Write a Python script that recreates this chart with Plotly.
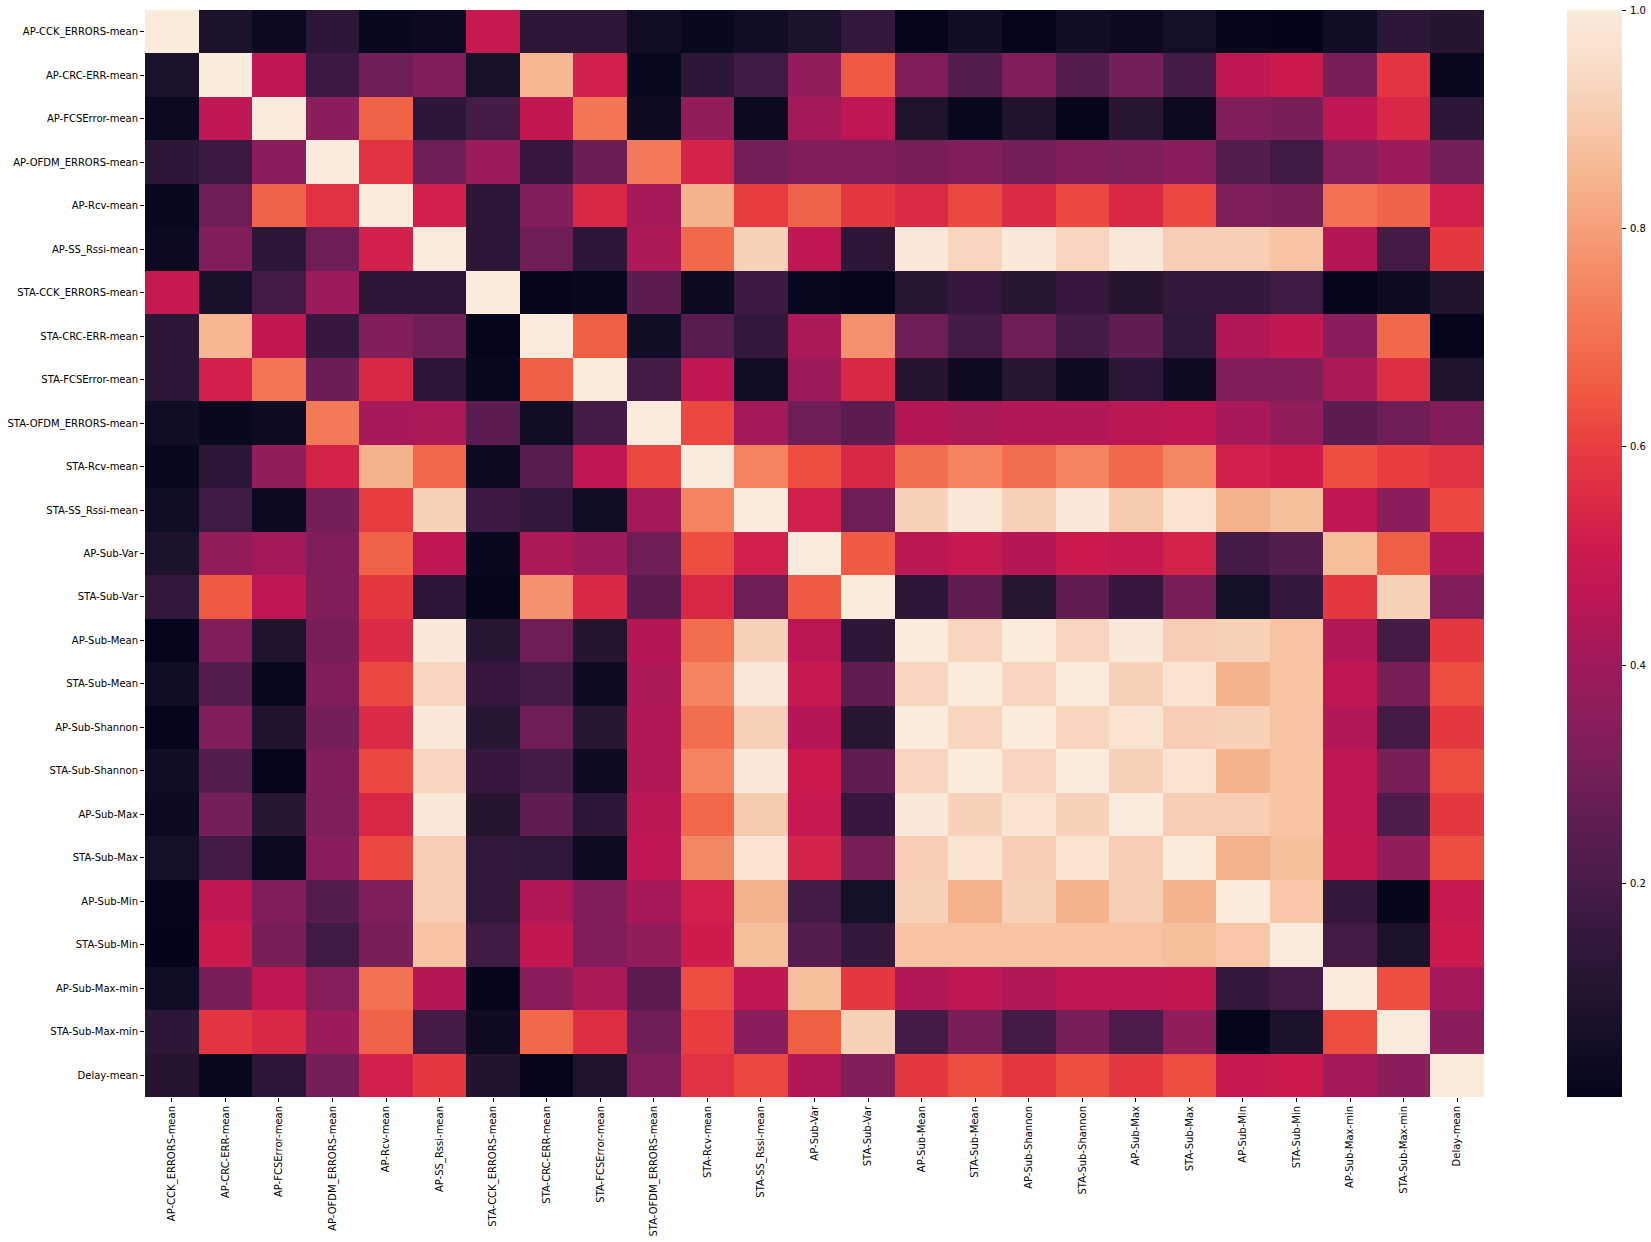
import numpy as np
import plotly.graph_objects as go

labels = [
    "AP-CCK_ERRORS-mean", "AP-CRC-ERR-mean", "AP-FCSError-mean", "AP-OFDM_ERRORS-mean",
    "AP-Rcv-mean", "AP-SS_Rssi-mean", "STA-CCK_ERRORS-mean", "STA-CRC-ERR-mean",
    "STA-FCSError-mean", "STA-OFDM_ERRORS-mean", "STA-Rcv-mean", "STA-SS_Rssi-mean",
    "AP-Sub-Var", "STA-Sub-Var", "AP-Sub-Mean", "STA-Sub-Mean", "AP-Sub-Shannon",
    "STA-Sub-Shannon", "AP-Sub-Max", "STA-Sub-Max", "AP-Sub-Min", "STA-Sub-Min",
    "AP-Sub-Max-min", "STA-Sub-Max-min", "Delay-mean",
]

# lower triangle of the (symmetric) correlation matrix, row by row
lower_rows = [
    [1.0],
    [0.08, 1.0],
    [0.03, 0.47, 1.0],
    [0.13, 0.17, 0.35, 1.0],
    [0.02, 0.29, 0.67, 0.57, 1.0],
    [0.03, 0.33, 0.13, 0.29, 0.52, 1.0],
    [0.49, 0.07, 0.19, 0.39, 0.13, 0.13, 1.0],
    [0.13, 0.85, 0.48, 0.16, 0.33, 0.29, 0.01, 1.0],
    [0.13, 0.52, 0.71, 0.28, 0.54, 0.13, 0.02, 0.66, 1.0],
    [0.05, 0.02, 0.04, 0.72, 0.42, 0.43, 0.25, 0.05, 0.19, 1.0],
    [0.02, 0.13, 0.37, 0.53, 0.84, 0.68, 0.03, 0.24, 0.47, 0.62, 1.0],
    [0.05, 0.18, 0.03, 0.30, 0.60, 0.92, 0.17, 0.15, 0.05, 0.41, 0.74, 1.0],
    [0.08, 0.37, 0.41, 0.33, 0.67, 0.47, 0.02, 0.43, 0.39, 0.29, 0.63, 0.52, 1.0],
    [0.15, 0.65, 0.47, 0.33, 0.59, 0.13, 0.01, 0.77, 0.54, 0.25, 0.54, 0.29, 0.65, 1.0],
    [0.01, 0.33, 0.09, 0.31, 0.55, 0.99, 0.12, 0.29, 0.11, 0.45, 0.69, 0.92, 0.46, 0.13, 1.0],
    [0.05, 0.23, 0.02, 0.33, 0.62, 0.93, 0.16, 0.19, 0.04, 0.43, 0.74, 0.99, 0.49, 0.26, 0.93, 1.0],
    [0.01, 0.33, 0.10, 0.30, 0.55, 0.99, 0.12, 0.29, 0.12, 0.44, 0.69, 0.92, 0.45, 0.12, 1.0, 0.93, 1.0],
    [0.05, 0.23, 0.01, 0.33, 0.62, 0.93, 0.16, 0.19, 0.04, 0.44, 0.74, 0.99, 0.50, 0.26, 0.93, 1.0, 0.93, 1.0],
    [0.03, 0.30, 0.12, 0.32, 0.54, 0.99, 0.11, 0.26, 0.13, 0.46, 0.68, 0.90, 0.49, 0.16, 0.99, 0.92, 0.97, 0.92, 1.0],
    [0.06, 0.19, 0.03, 0.35, 0.62, 0.91, 0.15, 0.14, 0.04, 0.47, 0.75, 0.97, 0.53, 0.31, 0.91, 0.97, 0.91, 0.97, 0.91, 1.0],
    [0.01, 0.47, 0.33, 0.23, 0.32, 0.91, 0.15, 0.44, 0.33, 0.42, 0.52, 0.84, 0.19, 0.06, 0.92, 0.84, 0.92, 0.84, 0.91, 0.84, 1.0],
    [0.005, 0.50, 0.31, 0.18, 0.31, 0.88, 0.18, 0.48, 0.33, 0.37, 0.51, 0.87, 0.23, 0.15, 0.88, 0.88, 0.88, 0.88, 0.88, 0.87, 0.89, 1.0],
    [0.05, 0.31, 0.47, 0.34, 0.70, 0.45, 0.01, 0.35, 0.43, 0.25, 0.63, 0.47, 0.87, 0.59, 0.44, 0.47, 0.44, 0.47, 0.47, 0.48, 0.15, 0.19, 1.0],
    [0.13, 0.58, 0.54, 0.39, 0.67, 0.19, 0.04, 0.68, 0.56, 0.29, 0.60, 0.35, 0.66, 0.92, 0.19, 0.31, 0.19, 0.31, 0.21, 0.37, 0.01, 0.08, 0.63, 1.0],
    [0.11, 0.02, 0.13, 0.30, 0.52, 0.59, 0.10, 0.01, 0.09, 0.33, 0.57, 0.62, 0.44, 0.33, 0.59, 0.63, 0.59, 0.63, 0.59, 0.63, 0.49, 0.50, 0.41, 0.35, 1.0],
]

colorbar_ticks = [0.2, 0.4, 0.6, 0.8, 1.0]

n = len(labels)
z = np.zeros((n, n))
for i, row in enumerate(lower_rows):
    for j, v in enumerate(row):
        z[i, j] = v
        z[j, i] = v

rocket = [
    [0.00, "#03051A"], [0.05, "#130E26"], [0.10, "#25152F"], [0.15, "#33183C"],
    [0.20, "#4B1C49"], [0.25, "#5C1D50"], [0.30, "#761F57"], [0.35, "#8B1E5A"],
    [0.40, "#A01A5B"], [0.45, "#B81656"], [0.50, "#CB1A4E"], [0.55, "#DC2B45"],
    [0.60, "#E83E40"], [0.65, "#F05A42"], [0.70, "#F37251"], [0.75, "#F48863"],
    [0.80, "#F5A07A"], [0.85, "#F6B792"], [0.90, "#F7CBAD"], [0.95, "#F9DDCA"],
    [1.00, "#FAEBDD"],
]

W, H = 1651, 1242
L, R, T, B = 145, 1484, 10, 1097
pw = R - L
zmin, zmax = float(z.min()), 1.0
cb_left, cb_w = 1567, 55

fig = go.Figure(go.Heatmap(
    z=z, x=labels, y=labels,
    colorscale=rocket, zmin=zmin, zmax=zmax,
    colorbar=dict(
        x=(cb_left - L) / pw, xanchor="left", y=0.5, yanchor="middle",
        len=1.0, lenmode="fraction", thickness=cb_w, thicknessmode="pixels",
        xpad=0, ypad=0, outlinewidth=0,
        tickvals=colorbar_ticks, showticklabels=False,
        ticks="outside", ticklen=4, tickwidth=1, tickcolor="#000",
    ),
))

# colorbar tick labels placed next to the ticks
for v in colorbar_ticks:
    fig.add_annotation(
        x=(cb_left + cb_w + 6 - L) / pw, xref="paper", xanchor="left",
        y=(v - zmin) / (zmax - zmin), yref="paper", yanchor="middle",
        text=f"{v:.1f}", showarrow=False,
        font=dict(family="DejaVu Sans", size=10, color="#000"),
    )

fig.update_layout(
    width=W, height=H,
    margin=dict(l=L, r=W - R, t=T, b=H - B, pad=0),
    paper_bgcolor="white", plot_bgcolor="white",
    font=dict(family="DejaVu Sans", size=10, color="#000"),
    xaxis=dict(tickangle=-90, ticks="outside", ticklen=4, tickwidth=1, tickcolor="#000",
               showgrid=False, zeroline=False, showline=False, automargin=False),
    yaxis=dict(autorange="reversed", ticks="outside", ticklen=4, tickwidth=1, tickcolor="#000",
               showgrid=False, zeroline=False, showline=False, automargin=False),
)

fig.write_html(
    "out.html",
    config={"displayModeBar": False},
    post_script="document.body.style.margin='0';document.body.style.overflow='hidden';",
)
